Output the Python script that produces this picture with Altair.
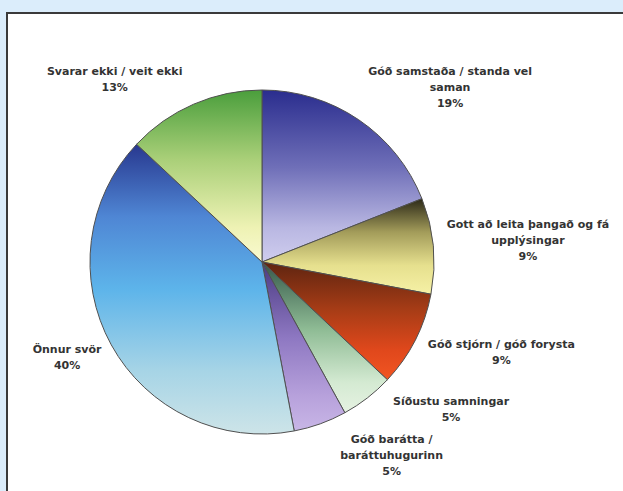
import altair as alt
import pandas as pd

# ---- data ----
categories = [
    "Góð samstaða / standa vel\nsaman",
    "Gott að leita þangað og fá\nupplýsingar",
    "Góð stjórn / góð forysta",
    "Síðustu samningar",
    "Góð barátta /\nbaráttuhugurinn",
    "Önnur svör",
    "Svarar ekki / veit ekki",
]
values = [19, 9, 9, 5, 5, 40, 13]
order = [0, 1, 2, 3, 4, 5, 6]

df = pd.DataFrame({"category": categories, "value": values, "order": order})

# ---- styling ----
gradient_stops = [
    [("#2a2d8e", 0.0), ("#6f6fb8", 0.45), ("#b9b7e2", 0.8), ("#cfcdee", 1.0)],
    [("#2c2918", 0.0), ("#a39c5a", 0.35), ("#e6e08e", 0.7), ("#f6f1a6", 1.0)],
    [("#5e2410", 0.0), ("#a63c16", 0.4), ("#e0481c", 0.75), ("#f25522", 1.0)],
    [("#35584a", 0.0), ("#8fbc95", 0.45), ("#d4ead2", 0.8), ("#e6f2e2", 1.0)],
    [("#4a3a82", 0.0), ("#8e78c2", 0.45), ("#b8a2dc", 0.8), ("#c8b6e6", 1.0)],
    [("#28388f", 0.0), ("#4f86d4", 0.25), ("#5db4ea", 0.5), ("#a6d4e6", 0.78), ("#cde4e8", 1.0)],
    [("#4a9e3c", 0.0), ("#a9cf78", 0.4), ("#eef2b4", 0.8), ("#fafad0", 1.0)],
]

# label nudges from the polar anchor (first text line is placed at the anchor)
label_nudges = [(56, 4), (32, -15), (30, -24), (45, -46), (50, -43), (11, -25), (-54, 26)]

CX, CY = 255, 249      # pie centre inside the framed view
R = 172                # pie radius
LABEL_R = 235

W, H = 616, 478


def grad(stops):
    return {
        "gradient": "linear",
        "x1": 0, "y1": 0, "x2": 0, "y2": 1,
        "stops": [{"color": c, "offset": o} for c, o in stops],
    }


theta_scale = alt.Scale(domain=[0, 100])

base = (
    alt.Chart(df)
    .transform_window(cum="sum(value)", sort=[alt.SortField("order")], frame=[None, 0])
    .transform_calculate(
        start="datum.cum - datum.value",
        mid="datum.cum - datum.value / 2",
        label="datum.category + '\\n' + datum.value + '%'",
    )
)

arcs = []
texts = []
for i in range(len(categories)):
    sub = base.transform_filter(alt.datum.order == i)
    arcs.append(
        sub.mark_arc(radius=R, fill=grad(gradient_stops[i]), stroke="#505050", strokeWidth=1).encode(
            theta=alt.Theta("start:Q", scale=theta_scale, stack=False),
            theta2="cum:Q",
            x=alt.value(CX),
            y=alt.value(CY),
        )
    )
    dx, dy = label_nudges[i]
    texts.append(
        sub.mark_text(
            radius=LABEL_R,
            dx=dx,
            dy=dy,
            align="center",
            baseline="middle",
            lineBreak="\n",
            lineHeight=16,
            font="DejaVu Sans",
            fontWeight="bold",
            fontSize=11,
            color="#333333",
        ).encode(
            theta=alt.Theta("mid:Q", scale=theta_scale, stack=False),
            text="label:N",
            x=alt.value(CX),
            y=alt.value(CY),
        )
    )

frame_df = pd.DataFrame({"k": [0]})
left_border = alt.Chart(frame_df).mark_rule(color="#3a3a3a", strokeWidth=2).encode(
    x=alt.value(0), y=alt.value(-1), y2=alt.value(H + 2)
)
top_border = alt.Chart(frame_df).mark_rule(color="#3a3a3a", strokeWidth=2).encode(
    x=alt.value(-1), x2=alt.value(W + 2), y=alt.value(0)
)

chart = (
    alt.layer(left_border, top_border, *arcs, *texts)
    .properties(
        width=W,
        height=H,
        background="#dbedfb",
        padding={"left": 7, "top": 13, "right": 0, "bottom": 0},
        autosize="none",
    )
    .configure_view(fill="white", strokeOpacity=0)
)

chart.save("out.html", embed_options={"renderer": "svg", "actions": False})
